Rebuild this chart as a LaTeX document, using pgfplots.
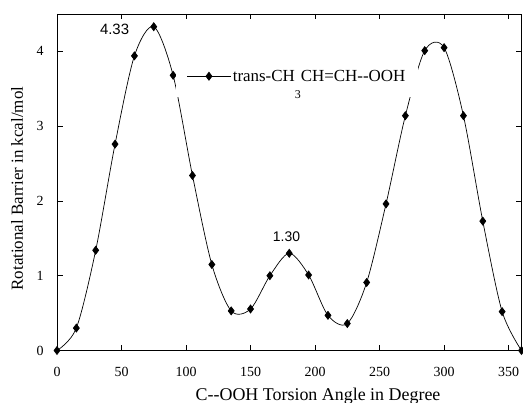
\documentclass[border=0pt]{standalone}
\usepackage{fontspec}
\setmainfont{Liberation Serif}
\newfontfamily\arial{Liberation Sans}
\usepackage{pgfplots}
\pgfplotsset{compat=1.18}

\begin{document}
\begin{tikzpicture}
\useasboundingbox (-57bp,-52.5bp) rectangle (466bp,350.5bp);
\begin{axis}[
 scale only axis,width=464.5bp,height=336.5bp,
 xmin=0,xmax=360,ymin=0,ymax=4.5,
 xtick={0,50,...,350},ytick={0,1,2,3,4},
 tick align=inside,major tick length=5.5bp,
 tick style={black,line width=0.6pt},
 axis line style={line width=0.8pt},
 /pgf/number format/assume math mode=true,
 tick label style={font=\fontsize{14}{16}\selectfont},
 xticklabel style={yshift=-13bp},
 yticklabel style={xshift=-10bp},
 xlabel={C-{}-OOH Torsion Angle in Degree},
 ylabel={Rotational Barrier in kcal/mol},
 xlabel style={font=\fontsize{18}{20}\selectfont,at={(axis description cs:0.562,0)},anchor=base,yshift=-49.5bp},
 ylabel style={font=\fontsize{17}{19}\selectfont,at={(axis description cs:-0.0732,0.481)},anchor=base},
 legend style={at={(0.256,0.815)},anchor=west,draw=none,fill=white,
   font=\fontsize{17}{19}\selectfont,inner xsep=11bp,inner ysep=12bp},
 legend image code/.code={
   \draw[mark repeat=2,mark phase=2] plot coordinates {(0bp,0bp) (21.5bp,0bp) (43bp,0bp)};},
]
\addplot[black,line width=0.7pt,smooth,mark=diamond*,mark size=4bp,mark options={fill=black}] coordinates {
(0,0) (15,0.30) (30,1.34) (45,2.76) (60,3.94) (75,4.33) (90,3.68) (105,2.34)
(120,1.15) (135,0.53) (150,0.555) (165,1.00) (180,1.30) (195,1.01) (210,0.47)
(225,0.36) (240,0.91) (255,1.96) (270,3.14) (285,4.01) (300,4.05) (315,3.14)
(330,1.73) (345,0.52) (360,0)};
\legend{trans-CH\raisebox{-17bp}[0pt][0pt]{\fontsize{12}{12}\selectfont 3}CH=CH-{}-OOH}
\node[font=\arial\fontsize{15}{17}\selectfont] at (axis cs:44.6,4.29) {4.33};
\node[font=\arial\fontsize{14}{16}\selectfont] at (axis cs:177.9,1.52) {1.30};
\end{axis}
\end{tikzpicture}
\end{document}
